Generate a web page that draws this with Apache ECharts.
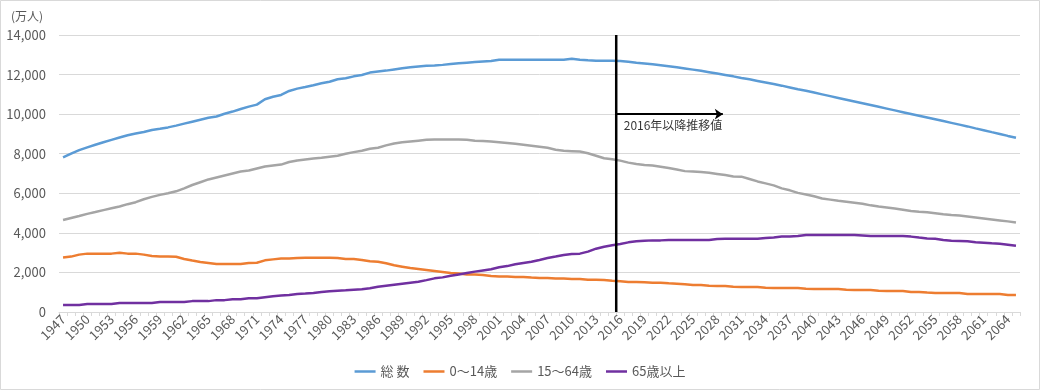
<!DOCTYPE html>
<html>
<head>
<meta charset="utf-8">
<script src="https://cdn.jsdelivr.net/npm/echarts@6/dist/echarts.min.js"></script>
<style>html,body{margin:0;padding:0;background:#fff;}#c{width:1040px;height:390px;}</style>
</head>
<body>
<div id="c"></div>
<script>
// categories: years 1947..2065
const years = [];
for (let y = 1947; y <= 2065; y++) years.push(String(y));

const seriesNames = ['総 数', '0〜14歳', '15〜64歳', '65歳以上'];

const total = [
  7810,8000,8180,8320,8450,8580,8700,8820,8930,9020,
  9100,9200,9260,9330,9420,9520,9620,9720,9820,9880,
  10020,10130,10260,10380,10480,10750,10880,10970,11170,11290,
  11370,11460,11560,11640,11760,11810,11910,11980,12100,12150,
  12200,12260,12320,12370,12410,12440,12460,12490,12530,12570,
  12600,12630,12660,12690,12750,12750,12750,12750,12750,12750,
  12750,12750,12750,12800,12750,12720,12700,12700,12700,12690,
  12650,12600,12560,12520,12470,12420,12370,12310,12250,12190,
  12120,12050,11980,11910,11830,11760,11680,11600,11520,11440,
  11350,11260,11180,11090,11000,10910,10820,10730,10640,10550,
  10460,10370,10280,10190,10100,10010,9920,9830,9740,9650,
  9560,9470,9380,9280,9190,9090,9000,8900,8810
];
const age0_14 = [
  2750,2800,2900,2950,2950,2950,2950,3000,2950,2950,
  2900,2830,2800,2800,2790,2680,2600,2530,2480,2430,
  2430,2430,2430,2480,2490,2610,2660,2700,2700,2730,
  2740,2740,2740,2740,2730,2680,2680,2630,2560,2540,
  2460,2360,2290,2220,2170,2120,2070,2020,1970,1940,
  1900,1890,1870,1820,1800,1790,1770,1770,1740,1720,
  1720,1690,1690,1670,1670,1630,1630,1620,1580,1550,
  1520,1520,1500,1480,1480,1450,1430,1400,1360,1360,
  1330,1310,1310,1280,1260,1260,1260,1230,1210,1210,
  1210,1210,1180,1160,1160,1160,1160,1130,1110,1110,
  1110,1080,1060,1060,1060,1010,1010,980,960,960,
  960,960,910,910,910,910,910,860,860
];
const age15_64 = [
  4650,4750,4850,4960,5050,5150,5240,5330,5450,5550,
  5700,5820,5920,6000,6100,6250,6420,6560,6700,6800,
  6900,7000,7100,7150,7250,7350,7400,7450,7580,7660,
  7710,7760,7800,7850,7900,8000,8080,8150,8250,8300,
  8420,8520,8580,8620,8660,8700,8720,8720,8720,8720,
  8700,8660,8640,8620,8580,8540,8500,8450,8400,8350,
  8300,8200,8150,8130,8110,8020,7900,7770,7720,7650,
  7550,7480,7430,7400,7340,7280,7200,7120,7100,7070,
  7040,6980,6920,6850,6840,6720,6600,6500,6400,6250,
  6150,6020,5940,5850,5740,5680,5620,5570,5520,5470,
  5390,5330,5280,5230,5170,5110,5070,5040,4990,4940,
  4900,4880,4830,4780,4730,4680,4630,4580,4520
];
const age65plus = [
  350,350,350,400,400,400,400,450,450,450,
  450,450,500,500,500,500,550,550,550,600,
  600,650,650,700,700,750,800,830,860,910,
  930,960,1010,1045,1080,1100,1130,1150,1200,1280,
  1330,1380,1430,1480,1530,1610,1700,1750,1830,1900,
  1970,2040,2100,2160,2260,2320,2410,2480,2540,2630,
  2730,2800,2880,2930,2950,3050,3200,3300,3370,3440,
  3520,3570,3600,3620,3620,3640,3640,3640,3640,3640,
  3640,3690,3700,3700,3700,3700,3700,3740,3770,3810,
  3810,3840,3890,3890,3890,3890,3890,3890,3890,3870,
  3840,3840,3840,3840,3840,3810,3760,3720,3700,3640,
  3600,3590,3570,3520,3500,3470,3450,3400,3350
];

// annotation parameters
const markerYear = '2016';
const arrowValue = 10000;
const arrowLengthYears = 13.2;
const annotationText = '2016年以降推移値';
const yTicks = { min: 0, max: 14000, interval: 2000 };

const colors = ['#5B9BD5', '#ED7D31', '#A5A5A5', '#7030A0'];
const values = [total, age0_14, age15_64, age65plus];
const markerIdx = years.indexOf(markerYear);
const FONT = "'Noto Sans CJK JP', 'Noto Sans', sans-serif";

const chart = echarts.init(document.getElementById('c'), null, { renderer: 'canvas' });
const series = seriesNames.map((n, i) => ({
  name: n, type: 'line', xAxisIndex: 0, data: values[i],
  symbol: 'none', smooth: false,
  lineStyle: { width: 2.5, color: colors[i], join: 'round' },
  itemStyle: { color: colors[i] }, animation: false, z: 2
}));
series.push({
  name: 'marker', type: 'line', xAxisIndex: 1, symbol: 'none', silent: true, animation: false, z: 5,
  data: [[markerIdx, yTicks.min], [markerIdx, yTicks.max]],
  lineStyle: { color: '#000', width: 2.5 },
  markLine: {
    silent: true, animation: false, symbol: ['none', 'arrow'], symbolSize: 8,
    label: { show: false },
    lineStyle: { color: '#000', width: 2, type: 'solid' },
    data: [[{ coord: [markerIdx, arrowValue] }, { coord: [markerIdx + arrowLengthYears, arrowValue] }]]
  }
});
series.push({
  name: 'note', type: 'scatter', xAxisIndex: 1, silent: true, animation: false,
  symbolSize: 1, itemStyle: { color: 'rgba(0,0,0,0)' },
  data: [[markerIdx, arrowValue]],
  label: { show: true, position: [8, 6], align: 'left', verticalAlign: 'top',
    formatter: annotationText, color: '#000', fontSize: 12, fontFamily: FONT }
});

chart.setOption({
  backgroundColor: '#fff',
  textStyle: { fontFamily: FONT },
  title: { text: '(万人)', left: 6, top: 5,
    textStyle: { fontSize: 12, fontWeight: 'normal', color: '#595959', fontFamily: FONT } },
  legend: {
    data: seriesNames.map(n => ({ name: n, icon: 'rect' })),
    left: 'center', top: 360, itemWidth: 21, itemHeight: 2.5, itemGap: 14,
    textStyle: { fontSize: 13, color: '#595959', fontFamily: FONT }
  },
  grid: { left: 59, right: 20, top: 35, bottom: 78 },
  xAxis: [{
    type: 'category', data: years, boundaryGap: true,
    axisLine: { lineStyle: { color: '#D9D9D9', width: 1 } },
    axisTick: { show: true, interval: 0, length: 4, lineStyle: { color: '#D9D9D9' } },
    axisLabel: { interval: 2, rotate: 45, fontSize: 13, color: '#595959', margin: 5, fontFamily: FONT },
    splitLine: { show: false }
  }, {
    type: 'value', min: 0, max: years.length, show: false, position: 'bottom'
  }],
  yAxis: {
    type: 'value', min: yTicks.min, max: yTicks.max, interval: yTicks.interval,
    axisLine: { show: false }, axisTick: { show: false },
    axisLabel: { fontSize: 13, color: '#595959', margin: 13, fontFamily: FONT,
      formatter: v => v.toLocaleString('en-US') },
    splitLine: { lineStyle: { color: '#D9D9D9', width: 1 } }
  },
  graphic: [{ type: 'rect', shape: { x: 0.5, y: 0.5, width: 1039, height: 389 },
    style: { fill: 'none', stroke: '#D9D9D9', lineWidth: 1 }, silent: true, z: 100 }],
  series: series
});
</script>
</body>
</html>
